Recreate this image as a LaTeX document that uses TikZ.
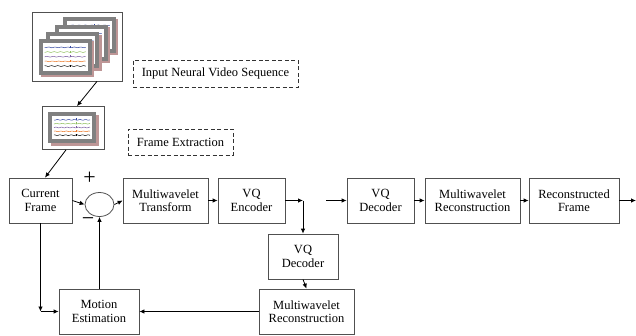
\documentclass[tikz,border=0pt]{standalone}
\usepackage{fontspec}
\setmainfont{Liberation Serif}
\usetikzlibrary{arrows.meta,shapes.geometric}
\definecolor{framegray}{RGB}{128,128,128}
\definecolor{shadowc}{RGB}{190,150,150}
\definecolor{eegblue}{RGB}{50,70,160}
\definecolor{eeggreen}{RGB}{140,190,90}
\definecolor{eegpurple}{RGB}{120,90,160}
\definecolor{eegorange}{RGB}{235,120,40}
\definecolor{boxc}{RGB}{80,80,80}
\newcommand{\eeg}[4]{%
  \fill[shadowc] ({#1+2.5},{#2+2.5}) rectangle ++(#3,#4);
  \fill[framegray] (#1,#2) rectangle ++(#3,#4);
  \fill[white] ({#1+4},{#2+4}) rectangle ({#1+#3-4},{#2+#4-4});
  \foreach \c [count=\i] in {eegblue,eeggreen,eegpurple,eegorange,black}{
    \pgfmathsetmacro\yy{#2+4+\i*(#4-8)/6}
    \draw[\c, line width=0.5pt] plot[variable=\t, domain=0:1, samples=30] ({#1+6+\t*(#3-12)}, {\yy+0.4*sin(\t*2300+\i*50)});
    \draw[\c, line width=0.5pt] ({#1+6+0.62*(#3-12)},{\yy+0.5}) -- ++(0,-2);
  }
}
\tikzset{
  blk/.style={draw=boxc, line width=0.8pt, align=center, inner sep=0pt,
    font=\fontsize{12.5}{13.5}\selectfont},
  imgbox/.style={draw=boxc, line width=0.8pt, fill=white, inner sep=0pt},
  note/.style={draw=black!80, dashed, dash pattern=on 4pt off 2.5pt, line width=1pt,
    inner sep=0pt, font=\fontsize{12.5}{13.5}\selectfont},
  arr/.style={draw=black, line width=0.8pt, -{Latex[length=5pt,width=4.5pt]}},
  sign/.style={inner sep=0pt, font=\fontsize{22}{22}\selectfont}
}
\begin{document}
\begin{tikzpicture}[x=1pt,y=-1pt]
\useasboundingbox (0,0) rectangle (636,335);
% image boxes
\node[imgbox, minimum width=90pt, minimum height=69pt] (seq) at (77,46.5) {};
\eeg{62.7}{16.7}{53}{36}
\eeg{54.7}{24.7}{53}{36}
\eeg{46.3}{32}{53}{36}
\eeg{38.7}{38.7}{53}{36}
\node[imgbox, minimum width=62pt, minimum height=43pt] (frm) at (73,128) {};
\eeg{48}{112}{48}{31}
% notes
\node[note, minimum width=165pt, minimum height=27pt] (n1) at (215.5,73.5) {Input Neural Video Sequence};
\node[note, minimum width=105pt, minimum height=26pt] (n2) at (180.5,142) {Frame Extraction};
% blocks
\node[blk, minimum width=63pt, minimum height=45pt] (cf) at (40.5,200.5) {Current\\Frame};
\node[draw=boxc, line width=0.8pt, ellipse, minimum width=29pt, minimum height=24pt, inner sep=0pt] (sum) at (99.5,204.5) {};
\node[blk, minimum width=85pt, minimum height=45pt] (mt) at (165.5,200.5) {Multiwavelet\\Transform};
\node[blk, minimum width=67pt, minimum height=45pt] (enc) at (251.5,200.5) {VQ\\Encoder};
\node[blk, minimum width=67pt, minimum height=45pt] (dec) at (380.5,200.5) {VQ\\Decoder};
\node[blk, minimum width=95pt, minimum height=45pt] (mr) at (472.5,200.5) {Multiwavelet\\Reconstruction};
\node[blk, minimum width=90pt, minimum height=45pt] (rf) at (574,200.5) {Reconstructed\\Frame};
\node[blk, minimum width=70pt, minimum height=45pt] (dec2) at (303,256.5) {VQ\\Decoder};
\node[blk, minimum width=95pt, minimum height=45pt] (mr2) at (306.5,311.5) {Multiwavelet\\Reconstruction};
\node[blk, minimum width=80pt, minimum height=45pt] (me) at (99,311.5) {Motion\\Estimation};
\node[sign] (plus) at (89.5,178) {+};
\node[sign] (minus) at (88,222) {−};
% coordinates
\coordinate (j) at (303,200.5);
\coordinate (s) at (326,200.5);
\coordinate (o) at (636,200.5);
\coordinate (c) at (40.5,311.5);
% connectors
\draw[arr] ([xshift=20pt]seq.south) -- ([xshift=4pt]frm.north);
\draw[arr] ([xshift=-7pt]frm.south) -- ([xshift=4.5pt]cf.north);
\draw[arr] (cf.east) -- (sum.west);
\draw[arr] (sum.east) -- (mt.west);
\draw[arr] (mt.east) -- (enc.west);
\draw[arr] (enc.east) -- (j);
\draw[arr] (j) -- (dec2.north);
\draw[arr] (s) -- (dec.west);
\draw[arr] (dec.east) -- (mr.west);
\draw[arr] (mr.east) -- (rf.west);
\draw[arr] (rf.east) -- (o);
\draw[arr] (dec2.south) -- (mr2.north);
\draw[arr] (mr2.west) -- (me.east);
\draw[arr] (cf.south) -- (c);
\draw[arr] (c) -- (me.west);
\draw[arr] (sum.south |- me.north) -- (sum.south);
\end{tikzpicture}
\end{document}
